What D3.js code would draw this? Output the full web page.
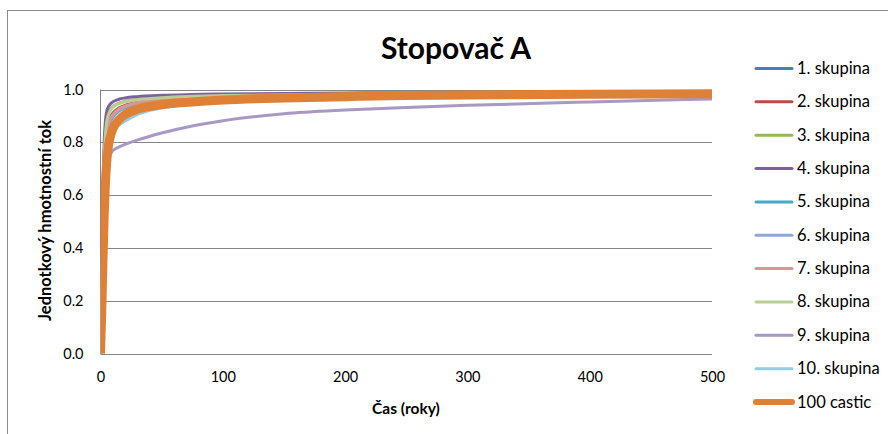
<!DOCTYPE html>
<html>
<head>
<meta charset="utf-8">
<script src="https://cdn.jsdelivr.net/npm/d3@7"></script>
<style>
  html, body { margin: 0; padding: 0; background: #fff; }
  svg { display: block; }
  text { font-family: Lato, "Open Sans", sans-serif; fill: #000; }
</style>
</head>
<body>
<div id="chart"></div>
<script>
// Sample times (years) shared by every series
const years = [0, 1, 2, 3, 4, 5, 6, 8, 10, 15, 20, 30, 50, 75, 100, 150, 200, 250, 300, 400, 500];

// Unit mass flux per group of tracer A
const skupina1  = [0, 0.22, 0.50, 0.68, 0.78, 0.83, 0.86, 0.89, 0.905, 0.925, 0.937, 0.949, 0.960, 0.966, 0.970, 0.975, 0.978, 0.980, 0.982, 0.984, 0.986];
const skupina2  = [0, 0.22, 0.50, 0.69, 0.79, 0.84, 0.865, 0.895, 0.91, 0.93, 0.94, 0.952, 0.962, 0.968, 0.972, 0.976, 0.979, 0.981, 0.983, 0.985, 0.986];
const skupina3  = [0, 0.26, 0.56, 0.75, 0.84, 0.885, 0.905, 0.925, 0.935, 0.948, 0.955, 0.963, 0.970, 0.975, 0.978, 0.981, 0.983, 0.985, 0.986, 0.987, 0.988];
const skupina4  = [0, 0.30, 0.60, 0.80, 0.88, 0.915, 0.930, 0.945, 0.953, 0.963, 0.968, 0.973, 0.978, 0.981, 0.983, 0.985, 0.987, 0.988, 0.988, 0.989, 0.990];
const skupina5  = [0, 0.20, 0.48, 0.67, 0.77, 0.82, 0.85, 0.88, 0.895, 0.918, 0.93, 0.944, 0.956, 0.963, 0.968, 0.973, 0.977, 0.979, 0.981, 0.983, 0.985];
const skupina6  = [0, 0.21, 0.49, 0.68, 0.78, 0.83, 0.855, 0.885, 0.90, 0.922, 0.934, 0.947, 0.958, 0.965, 0.969, 0.974, 0.977, 0.980, 0.982, 0.984, 0.985];
const skupina7  = [0, 0.22, 0.50, 0.69, 0.785, 0.835, 0.86, 0.89, 0.905, 0.926, 0.937, 0.95, 0.961, 0.967, 0.971, 0.975, 0.978, 0.981, 0.982, 0.984, 0.986];
const skupina8  = [0, 0.25, 0.55, 0.74, 0.83, 0.875, 0.898, 0.92, 0.932, 0.946, 0.953, 0.961, 0.969, 0.974, 0.977, 0.980, 0.982, 0.984, 0.985, 0.987, 0.988];
const skupina9  = [0, 0.20, 0.45, 0.62, 0.69, 0.72, 0.735, 0.755, 0.768, 0.782, 0.792, 0.808, 0.835, 0.862, 0.882, 0.908, 0.922, 0.932, 0.940, 0.953, 0.964];
const skupina10 = [0, 0.18, 0.42, 0.60, 0.70, 0.76, 0.79, 0.825, 0.845, 0.865, 0.88, 0.905, 0.93, 0.945, 0.955, 0.965, 0.971, 0.975, 0.978, 0.981, 0.983];
const castic100 = [0, 0.15, 0.35, 0.52, 0.64, 0.72, 0.77, 0.82, 0.85, 0.885, 0.905, 0.925, 0.943, 0.953, 0.960, 0.968, 0.973, 0.977, 0.979, 0.982, 0.984];

const seriesNames  = ["1. skupina", "2. skupina", "3. skupina", "4. skupina", "5. skupina", "6. skupina", "7. skupina", "8. skupina", "9. skupina", "10. skupina", "100 castic"];
const seriesValues = [skupina1, skupina2, skupina3, skupina4, skupina5, skupina6, skupina7, skupina8, skupina9, skupina10, castic100];
const seriesColors = ["#4a7ebb", "#be4b48", "#98b954", "#7d60a0", "#46aac5", "#8ea9d8", "#d99694", "#b9cd96", "#a898c4", "#93cddd", "#de8035"];

const xTicks = [0, 100, 200, 300, 400, 500];
const yTicks = [0, 0.2, 0.4, 0.6, 0.8, 1.0];

const W = 888, H = 434;
const plot = { left: 100.5, top: 89.5, right: 712, bottom: 353.5 };

const svg = d3.select("#chart").append("svg")
  .attr("width", W).attr("height", H);

// Outer chart frame
svg.append("rect")
  .attr("x", 7.5).attr("y", 10.5)
  .attr("width", 900).attr("height", 460)
  .attr("fill", "#fff").attr("stroke", "#8c8c8c").attr("stroke-width", 1);

const x = d3.scaleLinear().domain([0, 500]).range([plot.left, plot.right]);
const y = d3.scaleLinear().domain([0, 1]).range([plot.bottom, plot.top]);

// Horizontal gridlines
svg.append("g")
  .selectAll("line")
  .data(yTicks)
  .join("line")
  .attr("x1", plot.left).attr("x2", plot.right)
  .attr("y1", d => Math.round(y(d)) + 0.5).attr("y2", d => Math.round(y(d)) + 0.5)
  .attr("stroke", "#868686").attr("stroke-width", 1);

// Vertical axis line
svg.append("line")
  .attr("x1", plot.left).attr("x2", plot.left)
  .attr("y1", plot.top).attr("y2", plot.bottom)
  .attr("stroke", "#868686");

// Y axis labels
const yAxis = d3.axisLeft(y).tickValues(yTicks).tickFormat(d3.format(".1f")).tickSize(0).tickPadding(17);
const gy = svg.append("g").attr("transform", `translate(${plot.left},0)`).call(yAxis);
gy.select(".domain").remove();
gy.selectAll("text").style("font-family", "Lato, sans-serif").style("font-size", "14.5px").attr("fill", "#000");

// X axis labels
const xAxis = d3.axisBottom(x).tickValues(xTicks).tickFormat(d3.format("d")).tickSize(0).tickPadding(18);
const gx = svg.append("g").attr("transform", `translate(0,${plot.bottom})`).call(xAxis);
gx.select(".domain").remove();
gx.selectAll("text").style("font-family", "Lato, sans-serif").style("font-size", "14.5px").attr("fill", "#000");

// Title and axis titles
svg.append("text")
  .attr("x", 456).attr("y", 59)
  .attr("text-anchor", "middle")
  .style("font-size", "30px").style("font-weight", "bold")
  .text("Stopovač A");

svg.append("text")
  .attr("x", 406).attr("y", 414)
  .attr("text-anchor", "middle")
  .style("font-size", "15.5px").style("font-weight", "bold")
  .text("Čas (roky)");

svg.append("text")
  .attr("transform", `translate(51,${(plot.top + plot.bottom) / 2 - 1}) rotate(-90)`)
  .attr("text-anchor", "middle")
  .style("font-size", "16.5px").style("font-weight", "bold")
  .text("Jednotkový hmotnostní tok");

// Series lines, clipped to the plot area
svg.append("clipPath").attr("id", "plot-clip")
  .append("rect")
  .attr("x", plot.left).attr("y", plot.top - 10)
  .attr("width", plot.right - plot.left + 4).attr("height", plot.bottom - plot.top + 12);

const line = d3.line()
  .x((d, i) => x(years[i]))
  .y(d => y(d))
  .curve(d3.curveMonotoneX);

const lines = svg.append("g").attr("clip-path", "url(#plot-clip)");
seriesValues.forEach((vals, i) => {
  lines.append("path")
    .datum(vals)
    .attr("d", line)
    .attr("fill", "none")
    .attr("stroke", seriesColors[i])
    .attr("stroke-width", i === 10 ? 9 : 3)
    .attr("stroke-linejoin", "round");
});

// Legend
const legend = svg.append("g");
seriesNames.forEach((name, i) => {
  const ly = 68.5 + i * 33.35;
  legend.append("line")
    .attr("x1", 756).attr("x2", 792)
    .attr("y1", ly).attr("y2", ly)
    .attr("stroke", seriesColors[i])
    .attr("stroke-width", i === 10 ? 6 : 3)
    .attr("stroke-linecap", "round");
  legend.append("text")
    .attr("x", 797).attr("y", ly + 5.5)
    .style("font-size", "16.5px")
    .text(name);
});
</script>
</body>
</html>
